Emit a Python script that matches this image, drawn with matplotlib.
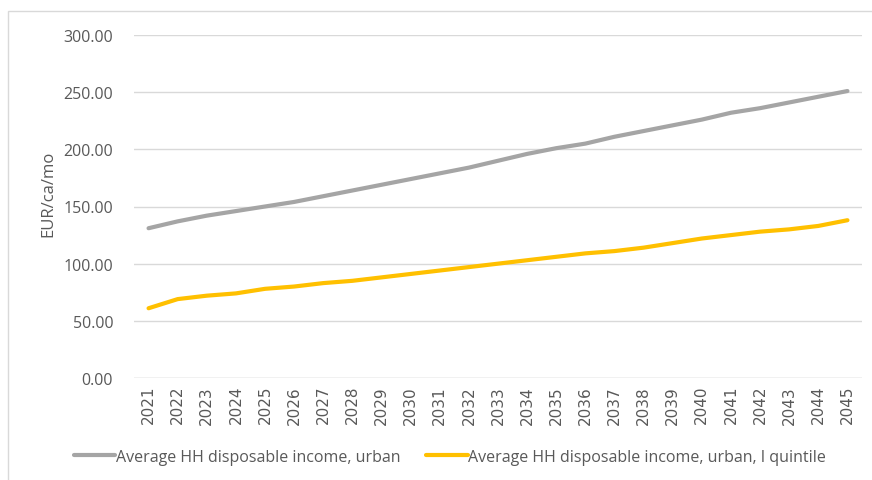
import matplotlib
matplotlib.use("Agg")
import matplotlib.pyplot as plt
from matplotlib.patches import Rectangle

years = [str(y) for y in range(2021, 2046)]
urban = [131, 137, 142, 146, 150, 154, 159, 164, 169, 174, 179, 184, 190, 196,
         201, 205, 211, 216, 221, 226, 232, 236, 241, 246, 251]
quintile = [61, 69, 72, 74, 78, 80, 83, 85, 88, 91, 94, 97, 100, 103, 106, 109,
            111, 114, 118, 122, 125, 128, 130, 133, 138]
yticks = [0, 50, 100, 150, 200, 250, 300]
series_names = ["Average HH disposable income, urban",
                "Average HH disposable income, urban, I quintile"]

plt.rcParams['font.family'] = ['Open Sans', 'DejaVu Sans']

fig = plt.figure(figsize=(8.72, 4.81), dpi=100)
fig.patches.append(Rectangle((8/872, -0.1), 1.0, 1 - 12/481 + 0.1,
                             transform=fig.transFigure, fill=False,
                             edgecolor='#D9D9D9', linewidth=1.0))
ax = fig.add_axes([134/872, 1 - 379/481, (862 - 134)/872, (379 - 36)/481])

x = list(range(len(years)))
ax.plot(x, urban, color='#A5A5A5', linewidth=3, solid_capstyle='round',
        label=series_names[0])
ax.plot(x, quintile, color='#FFC000', linewidth=3, solid_capstyle='round',
        label=series_names[1])

ax.set_xlim(-0.5, len(years) - 0.5)
ax.set_ylim(0, 300)
ax.set_yticks(yticks)
ax.set_yticklabels([f"{v:.2f}" for v in yticks], fontsize=11.5, color='#595959')
ax.set_xticks(x)
ax.set_xticklabels(years, rotation=90, fontsize=11, color='#595959',
                   family=['DejaVu Sans'])
ax.tick_params(axis='x', length=0, pad=5)
ax.tick_params(axis='y', length=0, pad=15)
ax.grid(axis='y', color='#D9D9D9', linewidth=1)
ax.set_axisbelow(True)
for s in ax.spines.values():
    s.set_visible(False)
ax.axhline(0, color='#D9D9D9', linewidth=1)

ax.set_ylabel("EUR/ca/mo", fontsize=12, color='#595959')
ax.yaxis.set_label_coords(-0.106, 0.54)

fig.legend(loc='center', bbox_to_anchor=(0.516, 1 - 458/481), ncol=2,
           frameon=False, fontsize=11.5, handlelength=2.6, handletextpad=0.05,
           columnspacing=1.6, labelcolor='#595959')

fig.savefig("out.png", dpi=100)
